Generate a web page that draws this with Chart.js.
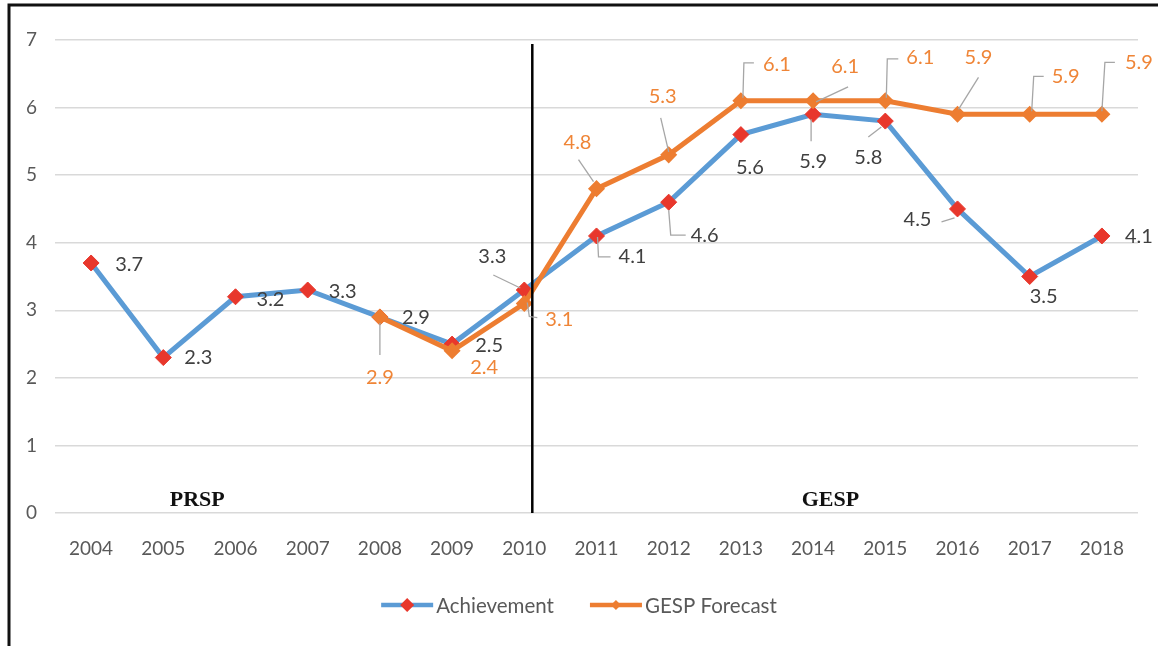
<!DOCTYPE html>
<html>
<head>
<meta charset="utf-8">
<title>Achievement vs GESP Forecast</title>
<script src="https://cdn.jsdelivr.net/npm/chart.js@4.4.1/dist/chart.umd.min.js"></script>
<style>
  html, body { margin: 0; padding: 0; background: #fff; }
  canvas { display: block; }
</style>
</head>
<body>
<canvas id="growth" width="1158" height="646"></canvas>
<script>
// Years on the x axis
const years = ['2004', '2005', '2006', '2007', '2008', '2009', '2010', '2011',
               '2012', '2013', '2014', '2015', '2016', '2017', '2018'];

// Actual growth achieved each year
const achievement = [3.7, 2.3, 3.2, 3.3, 2.9, 2.5, 3.3, 4.1, 4.6, 5.6, 5.9, 5.8, 4.5, 3.5, 4.1];

// GESP forecast, starts in 2008
const forecast = [null, null, null, null, 2.9, 2.4, 3.1, 4.8, 5.3, 6.1, 6.1, 6.1, 5.9, 5.9, 5.9];

// Value axis range
const yMin = 0;
const yMax = 7;

// Plan periods written inside the plot
const periods = ['PRSP', 'GESP'];

// Where each value label sits relative to its point [dx, dy]
const achLabelPos = [[38, 2], [35, 0], [35, 3], [35, 2], [36, 1], [37, 1], [-32, -33], [36, 21],
                     [36, 33], [9, 33], [0, 47], [-17, 36], [-40, 11], [14, 20], [37, 1]];
const fcLabelPos = [null, null, null, null, [0, 61], [32, 17], [35, 16], [-19, -46],
                    [-6, -58], [36, -36], [32, -34], [35, -43], [21, -57], [36, -38], [37, -52]];

// Leader lines for the labels that were pulled away from their points
const achLeaders = [null, null, null, null, null, null, [[-31, -15], [-4, -2]],
                    [[1, 1], [2, 21], [14, 21]], [[0, 8], [2, 33], [17, 33]], null,
                    [[-2, 5], [-2, 27]], [[-17, 16], [-4, 6]], [[-16, 13], [-3, 9]], null, null];
const fcLeaders = [null, null, null, null, [[0, 6], [0, 38]], null, [[3, -1], [5, 13], [13, 14]],
                   [[-18, -29], [-3, -7]], [[-8, -37], [0, -3]], [[2, -3], [3, -38], [13, -38]],
                   [[3, 1], [35, -14]], [[1, -3], [2, -42], [13, -42]], [[1, -5], [21, -37]],
                   [[2, -3], [4, -38], [14, -38]], [[0, -3], [3, -52], [13, -52]]];

const BLUE = '#5B9BD5';
const ORANGE = '#ED7D31';
const RED = '#E8372C';
const FONT = 'Lato, "Open Sans", sans-serif';

// Frame, divider line, period names, value labels and the legend
const decorations = {
    id: 'decorations',
    beforeDraw(chart) {
        const ctx = chart.ctx;
        ctx.save();
        ctx.fillStyle = '#fff';
        ctx.fillRect(0, 0, chart.width, chart.height);
        ctx.strokeStyle = '#111';
        ctx.lineWidth = 3;
        ctx.beginPath();
        ctx.moveTo(chart.width, 5);
        ctx.lineTo(9, 5);
        ctx.lineTo(9, chart.height);
        ctx.stroke();
        ctx.restore();
    },
    afterDatasetsDraw(chart) {
        const ctx = chart.ctx;
        const xs = chart.scales.x;
        const ys = chart.scales.y;
        ctx.save();

        // divider between the two plan periods
        const divX = xs.getPixelForValue(6) + 8;
        ctx.strokeStyle = '#000';
        ctx.lineWidth = 2.5;
        ctx.beginPath();
        ctx.moveTo(divX, ys.getPixelForValue(yMax) + 4);
        ctx.lineTo(divX, ys.getPixelForValue(yMin));
        ctx.stroke();

        // period names
        ctx.fillStyle = '#111';
        ctx.font = 'bold 22px "Liberation Serif", "DejaVu Serif", serif';
        ctx.textAlign = 'center';
        ctx.textBaseline = 'middle';
        const baseY = ys.getPixelForValue(0) - 13;
        ctx.fillText(periods[0], xs.getPixelForValue(1.47), baseY);
        ctx.fillText(periods[1], xs.getPixelForValue(10.24), baseY);

        // value labels with their leader lines
        const drawLabels = (dsIndex, values, pos, leaders, color) => {
            const meta = chart.getDatasetMeta(dsIndex);
            values.forEach((v, i) => {
                if (v === null || !pos[i]) return;
                const pt = meta.data[i];
                if (leaders[i]) {
                    ctx.strokeStyle = '#A6A6A6';
                    ctx.lineWidth = 1.3;
                    ctx.beginPath();
                    leaders[i].forEach((p, k) => {
                        if (k === 0) ctx.moveTo(pt.x + p[0], pt.y + p[1]);
                        else ctx.lineTo(pt.x + p[0], pt.y + p[1]);
                    });
                    ctx.stroke();
                }
                ctx.fillStyle = color;
                ctx.font = '20px ' + FONT;
                ctx.textAlign = 'center';
                ctx.textBaseline = 'middle';
                ctx.fillText(v.toFixed(1), pt.x + pos[i][0], pt.y + pos[i][1]);
            });
        };
        drawLabels(0, achievement, achLabelPos, achLeaders, '#404040');
        drawLabels(1, forecast, fcLabelPos, fcLeaders, '#EF8537');
        ctx.restore();
    },
    afterDraw(chart) {
        // legend: line with its marker, then the series name
        const ctx = chart.ctx;
        ctx.save();
        ctx.font = '20.5px ' + FONT;
        ctx.textBaseline = 'middle';
        ctx.textAlign = 'left';
        const items = [
            { text: chart.data.datasets[0].label, line: BLUE, mark: RED, r: 7 },
            { text: chart.data.datasets[1].label, line: ORANGE, mark: ORANGE, r: 5 }
        ];
        const lineLen = 52, gap = 3, spacing = 36;
        const widths = items.map(it => lineLen + gap + ctx.measureText(it.text).width);
        let x = chart.width / 2 - (widths[0] + widths[1] + spacing) / 2;
        const y = 605;
        items.forEach((it, i) => {
            ctx.strokeStyle = it.line;
            ctx.lineWidth = 4.5;
            ctx.beginPath();
            ctx.moveTo(x, y);
            ctx.lineTo(x + lineLen, y);
            ctx.stroke();
            const cx = x + lineLen / 2;
            ctx.fillStyle = it.mark;
            ctx.beginPath();
            ctx.moveTo(cx, y - it.r);
            ctx.lineTo(cx + it.r, y);
            ctx.lineTo(cx, y + it.r);
            ctx.lineTo(cx - it.r, y);
            ctx.closePath();
            ctx.fill();
            ctx.fillStyle = '#595959';
            ctx.fillText(it.text, x + lineLen + gap, y + 1);
            x += widths[i] + spacing;
        });
        ctx.restore();
    }
};

const ctx = document.getElementById('growth');

const growthChart = new Chart(ctx, {
    type: 'line',
    data: {
        labels: years,
        datasets: [
            {
                label: 'Achievement',
                data: achievement,
                borderColor: BLUE,
                borderWidth: 5,
                pointStyle: 'rectRot',
                pointRadius: 8,
                pointBackgroundColor: RED,
                pointBorderColor: RED,
                pointBorderWidth: 1,
                tension: 0,
                order: 1
            },
            {
                label: 'GESP Forecast',
                data: forecast,
                borderColor: ORANGE,
                borderWidth: 5,
                pointStyle: 'rectRot',
                pointRadius: 5,
                pointBackgroundColor: ORANGE,
                pointBorderColor: ORANGE,
                tension: 0,
                order: 0
            }
        ]
    },
    options: {
        responsive: false,
        animation: false,
        layout: {
            padding: { top: 40, right: 20, bottom: 80, left: 0 }
        },
        plugins: {
            legend: { display: false },
            tooltip: { enabled: false }
        },
        scales: {
            x: {
                offset: true,
                grid: { display: false, drawTicks: false },
                border: { display: false },
                ticks: {
                    color: '#595959',
                    font: { size: 19, family: FONT },
                    padding: 24,
                    maxRotation: 0
                },
                afterFit(scale) { scale.height = 53; }
            },
            y: {
                min: yMin,
                max: yMax,
                grid: { color: '#D9D9D9', lineWidth: 1.5, drawTicks: false },
                border: { display: false },
                ticks: {
                    stepSize: 1,
                    color: '#595959',
                    font: { size: 19, family: FONT },
                    padding: 18
                },
                afterFit(scale) { scale.width = 55; }
            }
        }
    },
    plugins: [decorations]
});
</script>
</body>
</html>
